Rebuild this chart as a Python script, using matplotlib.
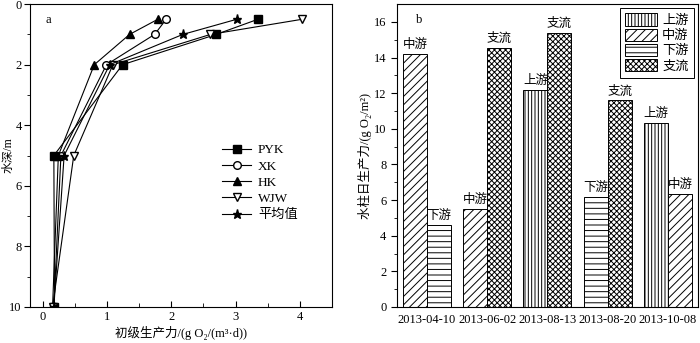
import numpy as np
import matplotlib
matplotlib.use('Agg')
from matplotlib import pyplot as plt
from matplotlib.patches import Patch

plt.rcParams['font.family'] = ['Liberation Serif', 'Noto Sans CJK SC']
plt.rcParams['font.size'] = 9
plt.rcParams['hatch.linewidth'] = 0.7
plt.rcParams['axes.linewidth'] = 0.8

###############################################################################
# Data for panel a: depth profiles of primary productivity
depth = [0.5, 1, 2, 5, 10]
pyk = [3.35, 2.70, 1.24, 0.17, 0.18]
xk = [1.92, 1.74, 0.99, 0.28, 0.17]
hk = [1.79, 1.35, 0.80, 0.24, 0.15]
wjw = [4.04, 2.61, 1.09, 0.48, 0.15]
avg = [3.02, 2.18, 1.04, 0.33, 0.17]

series_names = ['PYK', 'XK', 'HK', 'WJW', '平均值']

# Data for panel b: water column daily productivity
dates = ['2013-04-10', '2013-06-02', '2013-08-13', '2013-08-20', '2013-10-08']
left_cat = ['中游', '中游', '上游', '下游', '上游']
left_val = [14.2, 5.5, 12.2, 6.2, 10.35]
right_cat = ['下游', '支流', '支流', '支流', '中游']
right_val = [4.6, 14.55, 15.4, 11.6, 6.35]

reaches = ['上游', '中游', '下游', '支流']
hatches = {'上游': '|||||', '中游': '////', '下游': '---', '支流': 'xxxxxx'}

###############################################################################
# Plot:
fig = plt.figure(figsize=(7, 3.43), dpi=100)

# ---- panel a
ax = fig.add_axes([0.043, 0.105, 0.431, 0.883])
styles = [dict(marker='s', mfc='black'),
          dict(marker='o', mfc='white'),
          dict(marker='^', mfc='black'),
          dict(marker='v', mfc='white'),
          dict(marker='*', mfc='black', markersize=6.5)]
for vals, name, st in zip([pyk, xk, hk, wjw, avg], series_names, styles):
    kw = dict(color='black', mec='black', lw=0.8, markersize=5.5)
    kw.update(st)
    ax.plot(vals, depth, label=name, **kw)

ax.set_xlim(-0.2, 4.5)
ax.set_ylim(10, 0)
ax.set_xticks([0, 1, 2, 3, 4])
ax.set_xticks(np.arange(0, 4.6, 0.5), minor=True)
ax.set_yticks([0, 2, 4, 6, 8, 10])
ax.set_yticks([1, 3, 5, 7, 9], minor=True)
ax.tick_params(axis='x', which='both', direction='in', length=3)
ax.tick_params(axis='x', which='major', length=4, pad=3)
ax.tick_params(axis='y', which='major', direction='out', length=4, pad=2)
ax.tick_params(axis='y', which='minor', direction='out', length=2)
ax.set_xlabel('初级生产力/(g O₂/(m³·d))', labelpad=2)
ax.set_ylabel('水深/m', fontsize=8.5)
ax.yaxis.set_label_coords(-0.05, 0.5)
ax.text(0.05, 0.947, 'a', transform=ax.transAxes, ha='left', va='center')
ax.legend(loc='upper left', bbox_to_anchor=(0.62, 0.555), frameon=False,
          handlelength=2.2, labelspacing=0.3, handletextpad=0.5,
          borderaxespad=0, fontsize=9.5)

# ---- panel b
bx = fig.add_axes([0.567, 0.105, 0.43, 0.883])
x = np.arange(len(dates))
w = 0.4
for xs, cats, vals in [(x - w / 2, left_cat, left_val),
                       (x + w / 2, right_cat, right_val)]:
    for xi, c, v in zip(xs, cats, vals):
        bx.bar(xi, v, width=w, facecolor='white', edgecolor='black',
               hatch=hatches[c], linewidth=0.7)
        bx.text(xi, v + 0.15, c, ha='center', va='bottom')

bx.set_xlim(-0.5, 4.5)
bx.set_ylim(0, 17)
bx.set_xticks(x)
bx.set_xticklabels(dates)
bx.set_yticks(np.arange(0, 17, 2))
bx.set_yticks(np.arange(1, 17, 2), minor=True)
bx.tick_params(axis='x', length=0, pad=5)
bx.tick_params(axis='y', which='major', direction='out', length=4)
bx.tick_params(axis='y', which='minor', direction='out', length=2)
bx.set_ylabel('水柱日生产力/(g O₂/m²)')
bx.yaxis.set_label_coords(-0.082, 0.5)
bx.text(0.063, 0.947, 'b', transform=bx.transAxes, ha='left', va='center')

handles = [Patch(facecolor='white', edgecolor='black', hatch=hatches[r],
                 linewidth=0.7, label=r) for r in reaches]
leg = bx.legend(handles=handles, loc='upper right', fancybox=False,
                edgecolor='black', framealpha=1, handlelength=2.4,
                handleheight=1.05, labelspacing=0.12, handletextpad=0.4,
                borderpad=0.4, borderaxespad=0.3, fontsize=9.5)
leg.get_frame().set_linewidth(0.7)

fig.savefig('out.png', dpi=100)
